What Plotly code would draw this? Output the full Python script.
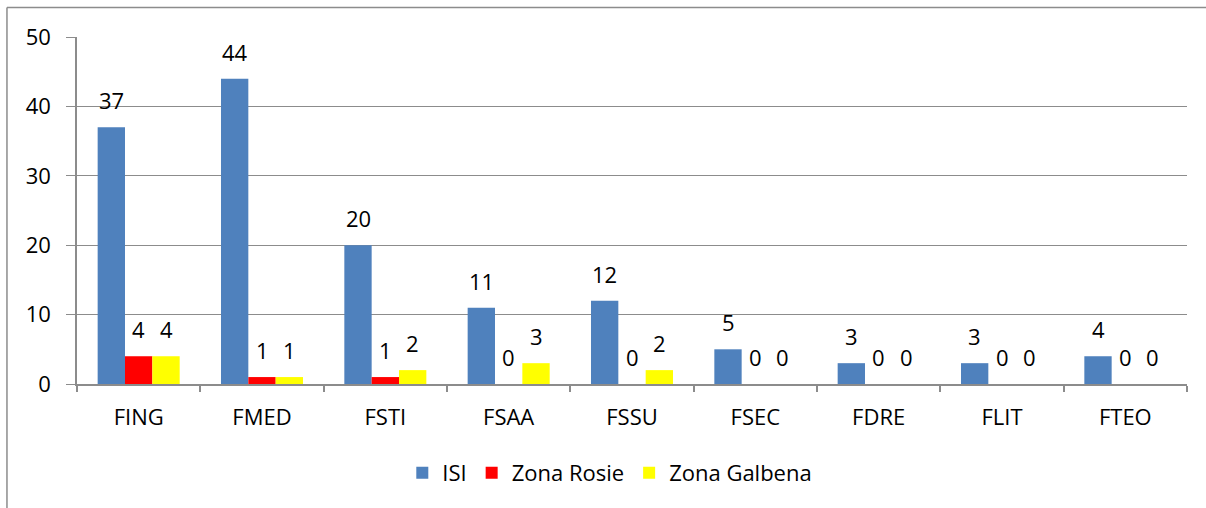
import plotly.graph_objects as go

categories = ["FING", "FMED", "FSTI", "FSAA", "FSSU", "FSEC", "FDRE", "FLIT", "FTEO"]
isi = [37, 44, 20, 11, 12, 5, 3, 3, 4]
zona_rosie = [4, 1, 1, 0, 0, 0, 0, 0, 0]
zona_galbena = [4, 1, 2, 3, 2, 0, 0, 0, 0]
y_ticks = [0, 10, 20, 30, 40, 50]

series = [
    ("ISI", isi, "#4F81BD"),
    ("Zona Rosie", zona_rosie, "#FF0000"),
    ("Zona Galbena", zona_galbena, "#FFFF00"),
]

FONT = "Open Sans"
FS = 22
GRID = "#8c8c8c"

fig = go.Figure()
for name, vals, col in series:
    fig.add_trace(go.Bar(x=categories, y=vals, name=name, marker=dict(color=col, line=dict(width=0))))

bar_px = 27.33
annotations = []
for i, (name, vals, col) in enumerate(series):
    for c, v in zip(categories, vals):
        annotations.append(dict(
            x=c, y=v, xref="x", yref="y", text=str(v), showarrow=False,
            xshift=(i - 1) * bar_px, yshift=27, yanchor="middle",
            font=dict(family=FONT, size=FS, color="#000000"),
        ))

border = dict(color=GRID, width=1.5)
fig.update_layout(
    width=1206, height=508,
    margin=dict(l=77, r=19, t=37, b=124),
    paper_bgcolor="white", plot_bgcolor="white",
    barmode="group", bargap=0.335, bargroupgap=0,
    font=dict(family=FONT, size=FS, color="#000000"),
    showlegend=True,
    legend=dict(orientation="h", x=0.48, xanchor="center", y=-0.256, yanchor="middle",
                font=dict(family=FONT, size=FS), itemwidth=30, traceorder="normal"),
    annotations=annotations,
    shapes=[
        dict(type="line", xref="paper", yref="paper", x0=-0.0631, x1=1.05, y0=1.085, y1=1.085,
             line=border, layer="below"),
        dict(type="line", xref="paper", yref="paper", x0=-0.0631, x1=-0.0631, y0=-0.4, y1=1.085,
             line=border, layer="below"),
    ],
)
fig.update_xaxes(
    type="category", showgrid=False, showline=True, linecolor=GRID, linewidth=1.5,
    ticks="outside", tickson="boundaries", ticklen=6, tickcolor=GRID, tickwidth=1.5,
    tickfont=dict(family=FONT, size=FS), ticklabelstandoff=13, fixedrange=True,
)
fig.update_yaxes(
    range=[0, 50], tickvals=y_ticks, showgrid=True, gridcolor=GRID, gridwidth=1.3,
    showline=True, linecolor=GRID, linewidth=1.5, ticks="outside", ticklen=9,
    tickcolor=GRID, tickwidth=1.3, tickfont=dict(family=FONT, size=FS), zeroline=False,
    ticklabelstandoff=11, fixedrange=True,
)

fig.write_html(
    "out.html",
    config={"displayModeBar": False},
    post_script="document.body.style.margin='0';document.body.style.overflow='hidden';",
)
